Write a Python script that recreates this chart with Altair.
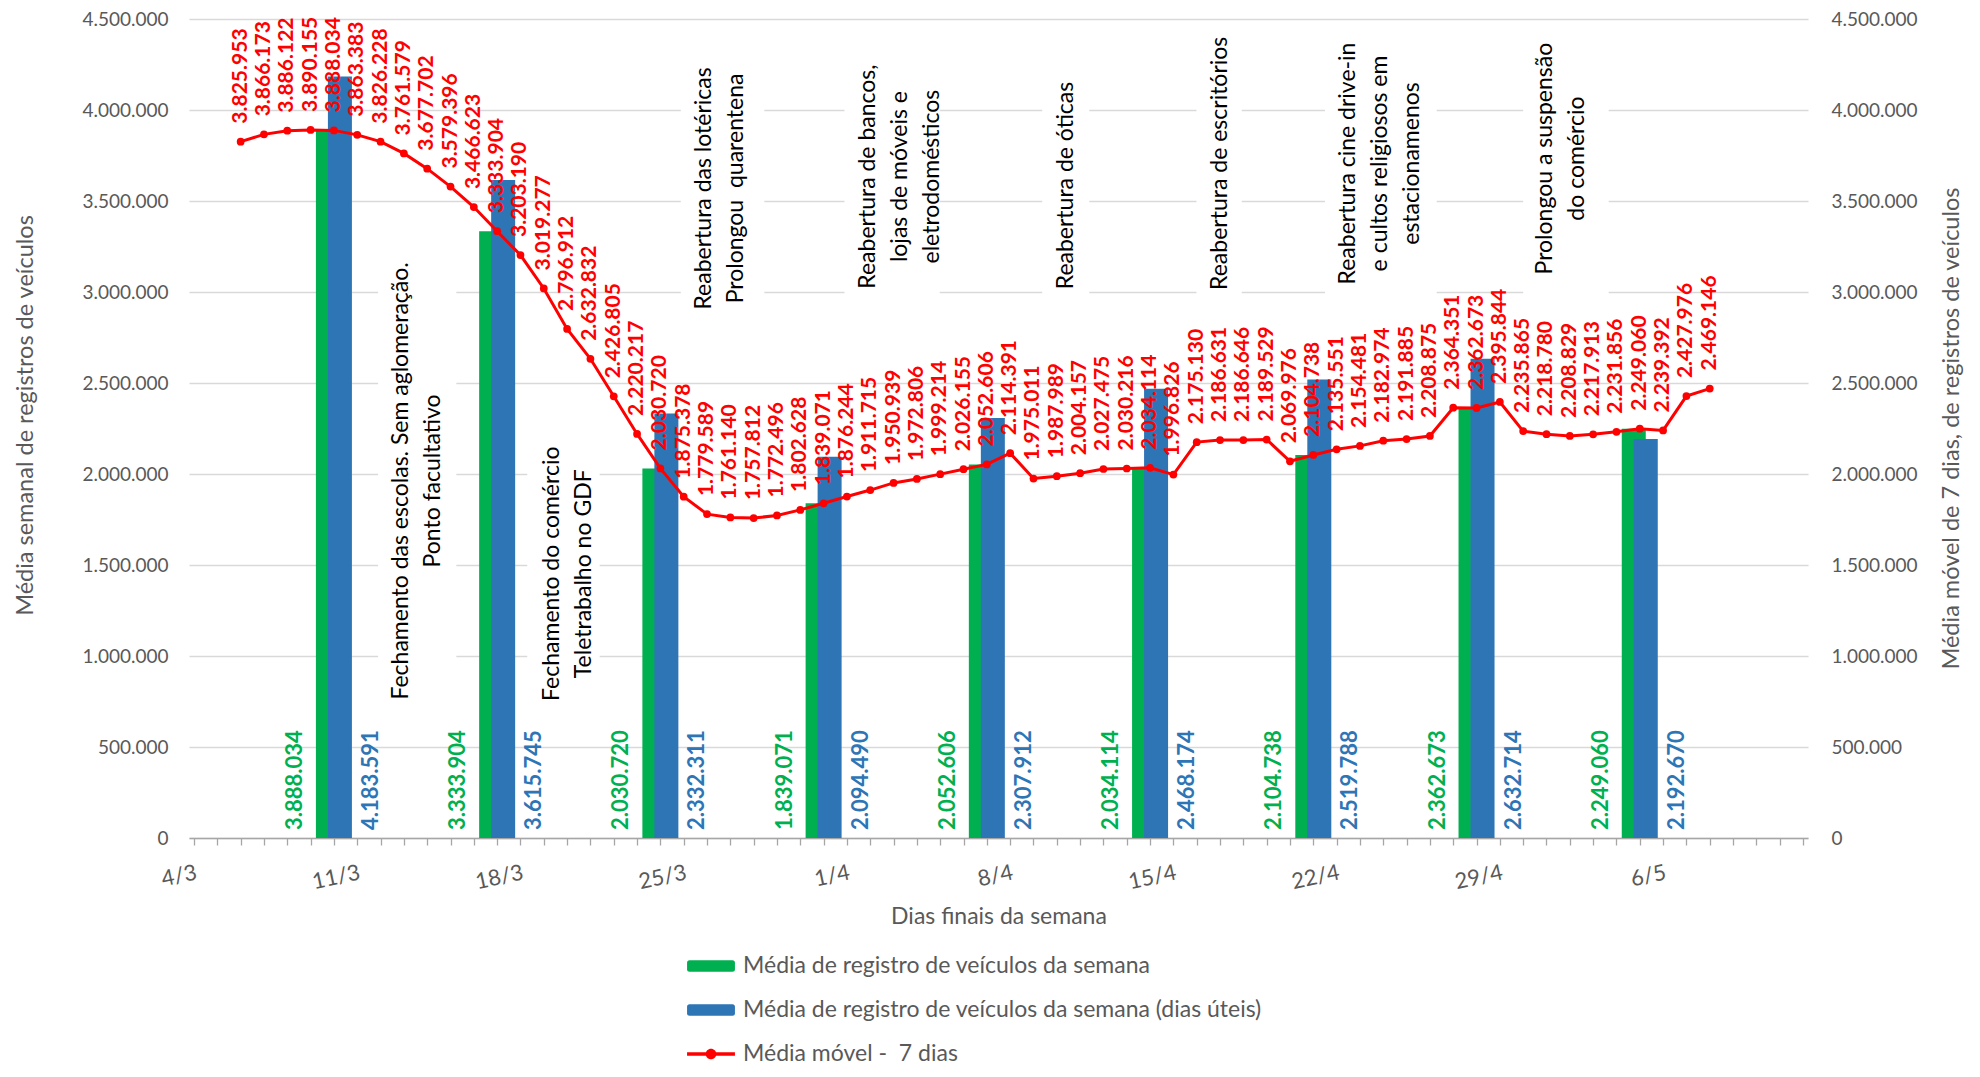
import json
import altair as alt
import pandas as pd

# ---------------- data ----------------
MA_START = "2020-03-06"
MA_VALUES = [3825953, 3866173, 3886122, 3890155, 3888034, 3863383, 3826228, 3761579,
             3677702, 3579396, 3466623, 3333904, 3203190, 3019277, 2796912, 2632832,
             2426805, 2220217, 2030720, 1875378, 1779589, 1761140, 1757812, 1772496,
             1802628, 1839071, 1876244, 1911715, 1950939, 1972806, 1999214, 2026155,
             2052606, 2114391, 1975011, 1987989, 2004157, 2027475, 2030216, 2034114,
             1996826, 2175130, 2186631, 2186646, 2189529, 2069976, 2104738, 2135551,
             2154481, 2182974, 2191885, 2208875, 2364351, 2362673, 2395844, 2235865,
             2218780, 2208829, 2217913, 2231856, 2249060, 2239392, 2427976, 2469146]

BAR_DATES = ["2020-03-10", "2020-03-17", "2020-03-24", "2020-03-31", "2020-04-07",
             "2020-04-14", "2020-04-21", "2020-04-28", "2020-05-05"]
WEEK_AVG = [3888034, 3333904, 2030720, 1839071, 2052606, 2034114, 2104738, 2362673, 2249060]
WEEKDAY_AVG = [4183591, 3615745, 2332311, 2094490, 2307912, 2468174, 2519788, 2632714, 2192670]

X_TICK_LABELS = ["4/3", "11/3", "18/3", "25/3", "1/4", "8/4", "15/4", "22/4", "29/4", "6/5"]
Y_TICKS = [0, 500000, 1000000, 1500000, 2000000, 2500000, 3000000, 3500000, 4000000, 4500000]

SERIES = ["Média de registro de veículos da semana",
          "Média de registro de veículos da semana (dias úteis)",
          "Média móvel - \u00a07 dias"]

ANN_TEXTS = ["Fechamento das escolas. Sem aglomeração.\nPonto facultativo",
             "Fechamento do comércio\nTeletrabalho no GDF",
             "Reabertura das lotéricas\nProlongou \u00a0quarentena",
             "Reabertura de bancos,\nlojas de móveis e\neletrodomésticos",
             "Reabertura de óticas",
             "Reabertura de escritórios",
             "Reabertura cine drive-in\ne cultos religiosos em\nestacionamenos",
             "Prolongou a suspensão\ndo comércio"]
ANN_X = ["2020-03-13T14:00", "2020-03-20T01:00", "2020-03-26T13:00", "2020-04-03T07:00",
         "2020-04-10T09:00", "2020-04-17T00:00", "2020-04-23T21:00", "2020-05-01T15:00"]
ANN_Y = [1962000, 1452000, 3569000, 3634000, 3585000, 3707000, 3706000, 3733000]
BOX_X1 = ["2020-03-11T21:30", "2020-03-18T07:00", "2020-03-24T21:00", "2020-03-31T21:30",
          "2020-04-09T09:00", "2020-04-15T23:45", "2020-04-21T12:00", "2020-04-30T00:00"]
BOX_X2 = ["2020-03-15T06:00", "2020-03-21T09:30", "2020-03-28T11:00", "2020-04-04T23:30",
          "2020-04-11T09:30", "2020-04-17T22:20", "2020-04-26T07:00", "2020-05-03T16:00"]
BOX_Y1 = [729000, 729000, 2850000, 2949000, 2949000, 2949000, 2949000, 2949000]
BOX_Y2 = [3223000, 2181000, 4287000, 4320000, 4231000, 4429000, 4429000, 4429000]

# ---------------- tables ----------------
ma_df = pd.DataFrame({
    "data": [d.strftime("%Y-%m-%dT00:00") for d in pd.date_range(MA_START, periods=len(MA_VALUES))],
    "valor": MA_VALUES,
})
bar_df = pd.DataFrame({
    "data": [d + "T00:00" for d in BAR_DATES],
    "semana": WEEK_AVG,
    "uteis": WEEKDAY_AVG,
})
ann_df = pd.DataFrame({"data": ANN_X, "valor": ANN_Y, "texto": ANN_TEXTS,
                       "linhas": [t.count("\n") + 1 for t in ANN_TEXTS]})
box_df = pd.DataFrame({"x1": BOX_X1, "x2": BOX_X2, "y1": BOX_Y1, "y2": BOX_Y2})
leg_df = pd.DataFrame({"serie": SERIES})

GREEN = "#00B050"
BLUE = "#2E75B6"
RED = "#FF0000"
GREY = "#595959"

D0 = alt.DateTime(year=2020, month=3, date=4)
D1 = alt.DateTime(year=2020, month=5, date=12)
all_days = [alt.DateTime(year=d.year, month=d.month, date=d.day)
            for d in pd.date_range("2020-03-04", "2020-05-12")]
xscale = alt.Scale(domain=[D0, D1], nice=False)
yscale = alt.Scale(domain=[0, 4500000], nice=False)

label_expr = ("indexof(%s, timeFormat(datum.value, '%%-d/%%-m')) >= 0 ? "
              "timeFormat(datum.value, '%%-d/%%-m') : ''") % json.dumps(X_TICK_LABELS)

x_axis = alt.Axis(values=all_days, labelExpr=label_expr, labelOverlap=False, labelFlush=False,
                  labelAngle=348, labelAlign="right", labelBaseline="top",
                  labelFontSize=22, labelColor=GREY, labelPadding=17,
                  tickSize=7, tickColor="#A6A6A6", domainColor="#A6A6A6", domainWidth=1.3,
                  tickWidth=1.3, grid=False,
                  title="Dias finais da semana", titleFontSize=23, titleColor=GREY,
                  titleFontWeight="normal", titleY=78, titleBaseline="middle")

y_axis_left = alt.Axis(values=Y_TICKS, format=",d", grid=True, gridColor="#D9D9D9", gridWidth=1.3,
                       ticks=False, tickSize=0, domain=False, labelFontSize=19, labelColor=GREY,
                       labelPadding=21,
                       title="Média semanal de registros de veículos", titleFontSize=23.5,
                       titleColor=GREY, titleFontWeight="normal", titleAngle=270,
                       titleX=-164, titleY=396, titleAlign="center", titleBaseline="middle")

y_axis_right = alt.Axis(orient="right", values=Y_TICKS, format=",d", grid=False,
                        ticks=False, tickSize=0, domain=False, labelFontSize=19, labelColor=GREY,
                        labelPadding=23,
                        title="Média móvel de 7 dias, de registros de veículos", titleFontSize=23.5,
                        titleColor=GREY, titleFontWeight="normal", titleAngle=270,
                        titleX=143, titleY=409, titleAlign="center", titleBaseline="middle")


def X(field):
    return alt.X(field, scale=xscale, axis=x_axis)


def YL(field):
    return alt.Y(field, scale=yscale, axis=y_axis_left)


def YR(field):
    return alt.Y(field, scale=yscale, axis=y_axis_right)


# ---------------- left group ----------------
boxes = alt.Chart(box_df).mark_rect(color="white").encode(
    x=X("x1:T"), x2="x2:T", y=YL("y1:Q"), y2="y2:Q")

base_bar = alt.Chart(bar_df)
green_bars = base_bar.mark_bar(width=24, xOffset=-6, color=GREEN).encode(
    x=X("data:T"), y=YL("semana:Q"))
blue_bars = base_bar.mark_bar(width=24, xOffset=6, color=BLUE).encode(
    x=X("data:T"), y=YL("uteis:Q"))

green_lbl = base_bar.mark_text(angle=270, align="left", baseline="middle", xOffset=-39, yOffset=-8,
                               fontSize=22, fontWeight="bold", color=GREEN).encode(
    x=X("data:T"), y=alt.datum(0, scale=yscale, axis=y_axis_left),
    text=alt.Text("semana:Q", format=",d"))
blue_lbl = base_bar.mark_text(angle=270, align="left", baseline="middle", xOffset=37, yOffset=-8,
                              fontSize=22, fontWeight="bold", color=BLUE).encode(
    x=X("data:T"), y=alt.datum(0, scale=yscale, axis=y_axis_left),
    text=alt.Text("uteis:Q", format=",d"))

LINE_H = 32
ann_layers = []
for n in (1, 2, 3):
    ann_layers.append(
        alt.Chart(ann_df).transform_filter(alt.datum.linhas == n).mark_text(
            angle=270, align="center", baseline="middle", lineBreak="\n",
            lineHeight=LINE_H, fontSize=23, color="#000000", dy=-(n - 1) * LINE_H / 2).encode(
            x=X("data:T"), y=YL("valor:Q"), text="texto:N"))

SYM_RECT = ("M-1.7,-0.45H1.7Q1.9,-0.45,1.9,-0.25V0.25Q1.9,0.45,1.7,0.45H-1.7"
            "Q-1.9,0.45,-1.9,0.25V-0.25Q-1.9,-0.45,-1.7,-0.45Z")
SYM_LINE = ("M-1.9,-0.14H1.9V0.14H-1.9Z M0.42,0A0.42,0.42,0,1,1,-0.42,0"
            "A0.42,0.42,0,1,1,0.42,0Z")
leg_props = dict(orient="none", legendX=509, legendY=934, direction="vertical",
                 title=None, labelFontSize=23, labelColor=GREY,
                 symbolSize=635, symbolStrokeWidth=0, symbolOpacity=1,
                 rowPadding=19, labelOffset=19, labelLimit=900)
legend_layer = alt.Chart(leg_df).mark_point(filled=True, size=0).encode(
    color=alt.Color("serie:N", scale=alt.Scale(domain=SERIES, range=[GREEN, BLUE, RED]),
                    legend=alt.Legend(**leg_props)),
    shape=alt.Shape("serie:N", scale=alt.Scale(domain=SERIES, range=[SYM_RECT, SYM_RECT, SYM_LINE]),
                    legend=alt.Legend(**leg_props)))

left = alt.layer(boxes, green_bars, blue_bars, green_lbl, blue_lbl, *ann_layers, legend_layer)

# ---------------- right group ----------------
base_ma = alt.Chart(ma_df)
line = base_ma.mark_line(color=RED, strokeWidth=3,
                         point=alt.OverlayMarkDef(filled=True, size=60, color=RED)).encode(
    x=X("data:T"), y=YR("valor:Q"))
ma_lbl = base_ma.mark_text(angle=270, align="left", baseline="middle", yOffset=-18,
                           fontSize=21, fontWeight="bold", color=RED).encode(
    x=X("data:T"), y=YR("valor:Q"),
    text=alt.Text("valor:Q", format=",d"))

right = alt.layer(line, ma_lbl)

chart = alt.layer(left, right).resolve_scale(y="independent").properties(
    width=1619, height=819,
    padding={"left": 181, "top": 11, "right": 164, "bottom": 231},
    autosize=alt.AutoSizeParams(type="none"),
).configure(
    font="Lato",
    locale={"number": {"decimal": ",", "thousands": ".", "grouping": [3], "currency": ["R$", ""]}},
).configure_view(stroke=None)

chart.save("out.html", embed_options={"renderer": "svg", "actions": False})
